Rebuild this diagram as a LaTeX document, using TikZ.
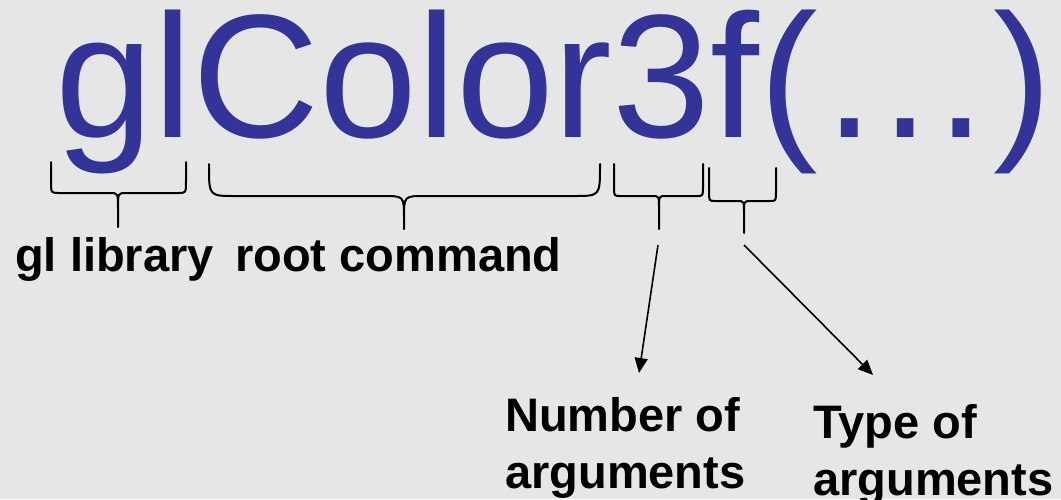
\documentclass[tikz,border=0pt]{standalone}
\usepackage{fontspec}
\setmainfont{Liberation Sans}
\usetikzlibrary{arrows.meta}
\definecolor{bg}{RGB}{230,230,230}
\definecolor{glblue}{RGB}{51,51,153}
% #1 x-left, #2 x-right, #3 x-middle, #4 y-top, #5 y-bar, #6 y-tip, #7 corner radius, #8 centre curve width, #9 centre curve height
\newcommand\curlybrace[9]{%
  \draw[bracestyle] (#1,#4) -- (#1,#5-#7-4) .. controls (#1,#5) .. (#1+#7,#5) -- (#3-#8,#5) .. controls (#3,#5) .. (#3,#5+#9) -- (#3,#6)
    (#2,#4) -- (#2,#5-#7-4) .. controls (#2,#5) .. (#2-#7,#5) -- (#3+#8,#5) .. controls (#3,#5) .. (#3,#5+#9);}
\begin{document}
\begin{tikzpicture}[x=1pt,y=-1pt,
  bracestyle/.style={draw=black,line width=2pt,line join=round,line cap=round},
  lbl/.style={inner sep=0pt,anchor=base west,font=\fontsize{47}{57}\selectfont\bfseries,align=left},
  arr/.style={draw=black,line width=1.6pt,-{Triangle[length=15pt,width=13pt]}}]
\fill[bg] (0,0) rectangle (1061,499);
\useasboundingbox (0,0) rectangle (1061,499);
\node[inner sep=0pt,anchor=base west,text=glblue,font=\fontsize{176}{200}\selectfont] (func) at (55,137) {glColor3f(…)};
\curlybrace{51}{186}{118}{162}{193}{227}{8}{8}{16}
\curlybrace{209}{600}{404}{164}{196}{229}{26}{21}{22}
\curlybrace{614}{703}{659}{164}{196}{229}{6}{7}{12}
\curlybrace{709}{776}{744}{168}{201}{233}{6}{7}{12}
\node[lbl] (lib) at (15,271) {gl library};
\node[lbl] (root) at (235,271) {root command};
\node[lbl] (num) at (505,488) {Number of\\arguments};
\node[lbl] (type) at (813,495) {Type of\\arguments};
\coordinate (numstart) at (658,245);
\coordinate (numend) at (639,373);
\coordinate (typestart) at (744,245);
\coordinate (typeend) at (873,375);
\draw[arr] (numstart) -- (numend);
\draw[arr] (typestart) -- (typeend);
\end{tikzpicture}
\end{document}
